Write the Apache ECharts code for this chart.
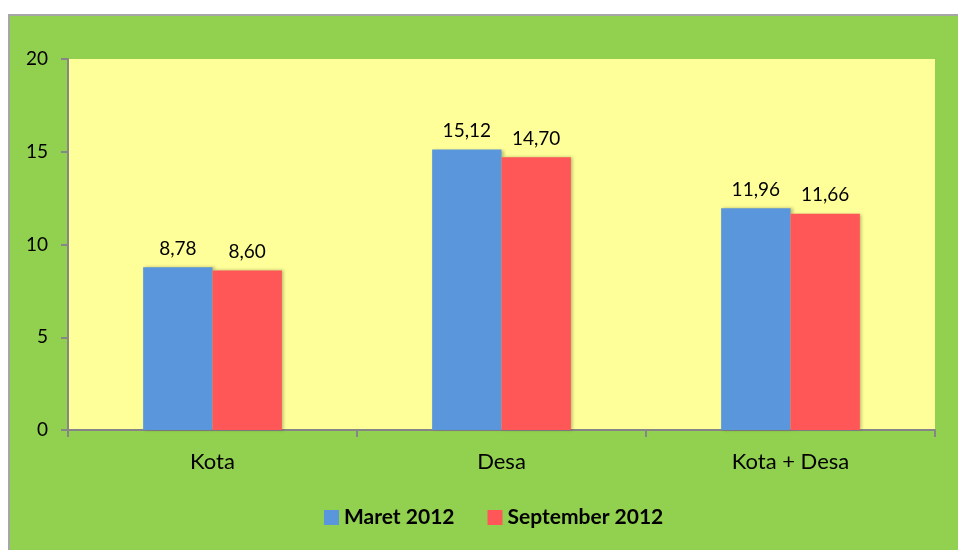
<!DOCTYPE html>
<html>
<head>
<meta charset="utf-8">
<script src="https://cdn.jsdelivr.net/npm/echarts@6/dist/echarts.min.js"></script>
<style>
  html, body { margin: 0; padding: 0; background: #fff; overflow: hidden; }
  #main { width: 958px; height: 550px; }
</style>
</head>
<body>
<div id="main"></div>
<script>
// data
const categories = ['Kota', 'Desa', 'Kota + Desa']
const maret = [8.78, 15.12, 11.96]
const september = [8.60, 14.70, 11.66]
const seriesNames = ['Maret 2012', 'September 2012']

const font = 'Lato, "Open Sans", sans-serif'
const myChart = echarts.init(document.getElementById('main'))

const barLabel = {
  show: true,
  position: 'top',
  distance: 9,
  color: '#000',
  fontSize: 19,
  fontFamily: font,
  formatter: (p) => p.value.toFixed(2).replace('.', ',')
}

const option = {
  backgroundColor: '#fff',
  animation: false,
  graphic: [{
    type: 'rect',
    z: -10,
    silent: true,
    shape: { x: 9, y: 15, width: 1000, height: 600 },
    style: { fill: '#92D050', stroke: '#A6A6A6', lineWidth: 2 }
  }],
  grid: {
    left: 68,
    right: 23,
    top: 59,
    bottom: 120,
    show: true,
    backgroundColor: '#FFFF99',
    borderWidth: 0
  },
  legend: {
    bottom: 17,
    left: 319,
    itemWidth: 15,
    itemHeight: 15,
    itemGap: 33,
    icon: 'rect',
    textStyle: { color: '#000', fontSize: 21, fontWeight: 'bold', fontFamily: font },
    data: seriesNames
  },
  xAxis: {
    type: 'category',
    data: categories,
    axisLine: { show: true, lineStyle: { color: '#868686', width: 2 } },
    axisTick: { show: true, length: 7, interval: 0, lineStyle: { color: '#868686', width: 2 } },
    axisLabel: { color: '#000', fontSize: 22, fontFamily: font, margin: 21 },
    splitLine: { show: false }
  },
  yAxis: {
    type: 'value',
    min: 0,
    max: 20,
    interval: 5,
    axisLine: { show: true, lineStyle: { color: '#868686', width: 2 } },
    axisTick: { show: true, length: 7, lineStyle: { color: '#868686', width: 2 } },
    axisLabel: { color: '#000', fontSize: 19, fontFamily: font, margin: 20 },
    splitLine: { show: false }
  },
  series: [
    {
      name: seriesNames[0],
      type: 'bar',
      data: maret,
      barGap: '0%',
      barCategoryGap: '52%',
      itemStyle: { color: '#5A96DC', shadowColor: 'rgba(0,0,0,0.25)', shadowBlur: 3, shadowOffsetX: 2 },
      label: barLabel
    },
    {
      name: seriesNames[1],
      type: 'bar',
      data: september,
      itemStyle: { color: '#FF5757', shadowColor: 'rgba(0,0,0,0.25)', shadowBlur: 3, shadowOffsetX: 2 },
      label: barLabel
    }
  ]
}
myChart.setOption(option)
</script>
</body>
</html>
